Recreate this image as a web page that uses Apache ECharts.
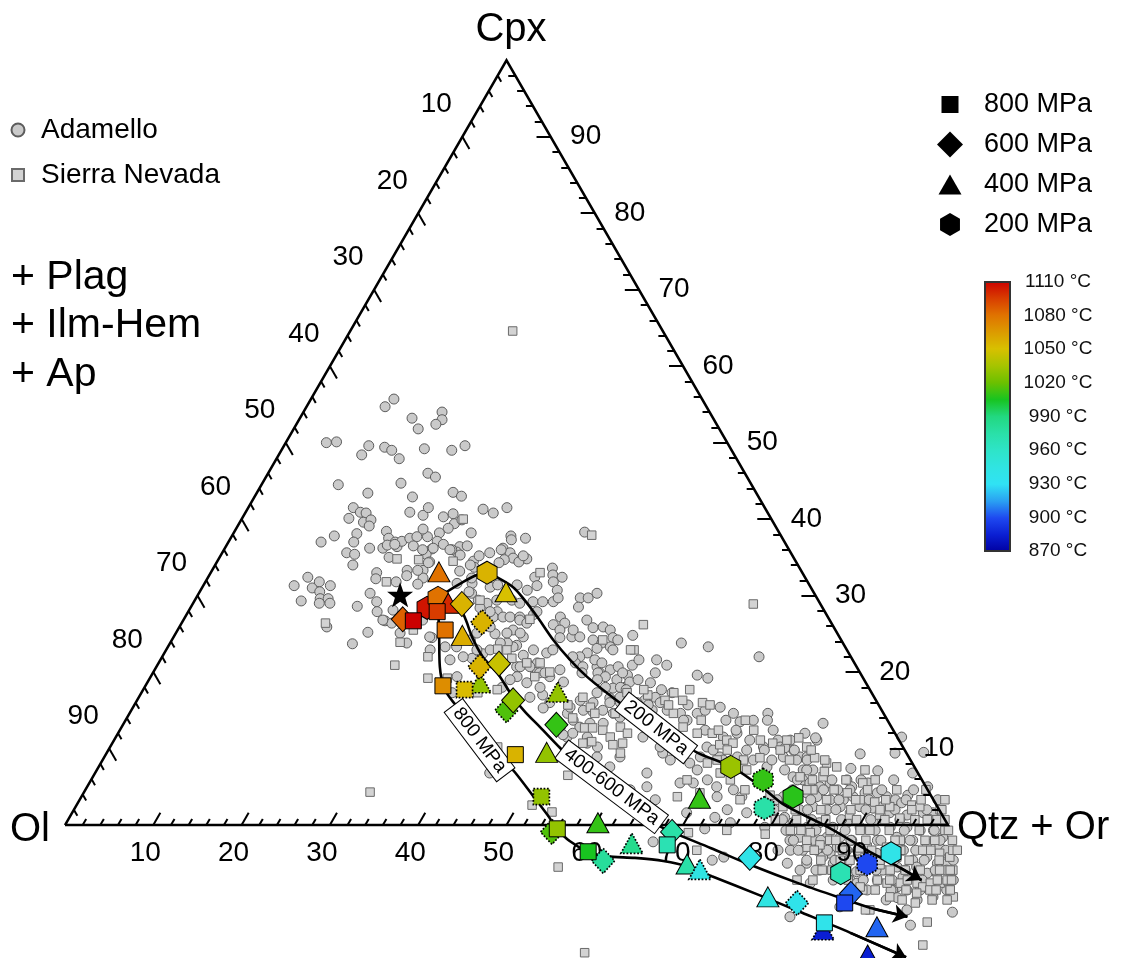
<!DOCTYPE html>
<html>
<head>
<meta charset="utf-8">
<title>Cpx – Ol – Qtz + Or</title>
<script src="https://cdn.jsdelivr.net/npm/echarts@6.0.0/dist/echarts.min.js"></script>
<style>
  html, body { margin: 0; padding: 0; background: #fff; }
  #chart { width: 1121px; height: 958px; }
</style>
</head>
<body>
<div id="chart"></div>
<script>
// ---------------------------------------------------------------------------
// Compositions are given as [Qtz + Or %, Cpx %]  (Ol = 100 - both).
// Points may plot slightly outside the triangle (projected compositions).
// ---------------------------------------------------------------------------

const axisTicks = [10, 20, 30, 40, 50, 60, 70, 80, 90];

// Adamello whole-rock projections
const adamello = [
[8.9,54.7],[9.4,55.7],[12.7,53.2],[14.1,51.8],[15.7,54.0],[16.2,53.0],[15.8,52.4],[4.6,50.0],[5.7,50.1],[9.4,48.4],[9.6,49.6],[11.5,49.4],[12.5,49.0],[13.9,47.9],[16.1,49.2],[19.3,49.0],[20.5,49.6],
[8.7,44.5],[12.6,43.4],[15.7,44.7],[17.9,42.9],[18.1,46.0],[19.2,45.5],[22.2,43.5],[23.4,43.0],
[11.9,41.5],[12.1,40.1],[13.0,40.9],[13.7,40.8],[14.0,39.6],[14.7,39.9],[14.9,39.1],[11.6,37.8],[10.5,37.0],[14.0,38.1],[14.2,37.0],[14.1,35.6],[15.1,35.4],[15.6,34.0],[16.4,36.2],[17.9,36.2],[17.2,38.4],[17.9,37.5],[18.9,37.0],[19.4,36.4],[19.6,37.1],[20.3,37.5],[21.0,37.7],[22.2,37.7],
[18.6,40.9],[20.3,40.5],[20.4,41.5],[22.7,40.3],[23.6,40.7],[24.4,39.4],[25.0,39.9],[24.0,38.8],[23.3,38.2],[23.6,37.1],[24.5,36.7],[23.5,36.1],[21.2,38.7],[23.2,35.4],[24.1,34.4],[23.9,33.3],[24.4,32.3],[24.2,31.5],[22.1,33.3],[22.4,32.6],[21.6,31.8],[18.8,33.0],[19.1,32.2],[19.2,35.0],[19.4,30.3],[20.7,29.2],[21.4,27.9],[18.8,28.6],[22.9,26.7],[23.8,26.4],[21.7,25.2],[20.7,23.7],
[10.3,31.3],[11.3,32.4],[12.1,29.3],[12.5,31.0],[12.9,31.8],[14.4,31.3],[13.6,30.5],[14.1,29.6],[15.0,29.6],[15.5,29.0],[14.3,29.0],[16.7,25.9],
[26.5,36.4],[27.3,36.5],[26.5,35.7],[26.9,38.2],[29.0,34.5],[29.3,35.2],[29.5,33.7],[28.1,33.2],[25.8,36.0],[26.7,41.3],[28.1,40.8],[29.3,41.5],[31.6,37.8],[33.4,37.5],[31.5,36.2],[32.6,35.6],[33.3,34.9],[34.9,34.8],[32.4,34.7],[34.2,34.4],[32.0,34.3],[37.0,32.4],[37.8,31.3],[30.3,31.6],[30.9,30.3],[32.1,29.4],[33.3,29.0],[35.0,27.9],[34.9,27.2],[36.0,27.2],[36.8,27.2],[37.9,27.2],[38.4,29.2],[39.3,27.5],[36.2,25.0],[38.0,25.5],[39.4,23.5],[39.6,24.6],[35.2,21.8],[32.8,21.6],[31.4,23.3],[29.3,24.5],[36.1,22.4],[41.7,21.2],[40.8,20.7],[43.5,20.0],
[18.2,36.6],[19.0,36.7],[21.2,36.5],[22.5,36.0],[23.6,36.2],[25.6,36.0],[27.1,35.3],[30.3,35.6],[31.4,36.0],[31.9,37.3],[34.3,35.2],[24.0,34.3],[23.3,33.3],[28.9,34.0],[28.6,31.6],[29.9,32.3],[30.5,30.5],[32.6,31.1],[33.3,31.4],[34.2,29.4],[35.9,29.4],[37.0,29.0],[35.5,31.4],[37.0,30.7],[38.4,33.6],[38.9,32.7],[40.1,32.4],[39.5,29.2],[40.7,29.2],[39.5,27.9],[42.5,27.2],[43.4,26.4],[43.5,29.7],[43.9,28.5],[44.4,29.7],[45.1,30.3],[42.2,26.2],[43.3,25.5],[43.8,24.5],[45.1,24.6],[46.0,24.6],[46.9,25.8],[48.0,25.9],[49.0,25.5],[49.8,24.5],[50.5,24.2],[47.7,24.2],[48.9,23.8],[50.1,23.3],[47.9,22.5],[48.7,23.1],[47.3,22.0],[47.2,21.2],[48.3,20.7],[49.9,20.7],[50.6,19.9],[51.6,20.3],[52.3,20.7],[53.0,19.0],[53.9,19.6],[54.4,18.0],[53.1,17.9],[53.4,16.6],[54.9,16.0],[51.6,17.3],[51.8,16.0],[50.2,16.3],[51.2,15.0],[49.6,14.6],[50.7,13.7],[51.9,12.8],[53.4,11.5],[55.2,10.2],[55.8,8.9],[57.9,7.6],[53.9,8.9],[51.1,11.5],[49.7,12.8],[45.6,17.0],[46.9,16.0],[44.3,16.7],[43.0,18.6],[43.8,19.9],[45.2,19.4],[42.9,21.2],[43.3,22.5],[41.6,22.9],[40.8,22.2],[39.1,23.3],[38.2,23.8],[37.5,25.1],[39.0,25.1],[38.1,26.8],[34.2,27.9],[32.8,28.4],[35.2,25.9],[34.1,25.1],[33.8,24.2],[32.7,23.3],[34.1,22.0],[35.2,22.9],[36.7,22.9],[37.4,23.8],[41.2,20.7],[42.3,20.7],[41.5,19.4],[40.9,19.0],[40.5,18.0],[46.5,15.3],[29.0,24.6],[29.9,22.9],[34.7,19.4],[35.2,17.3],[44.7,6.8],[23.1,28.1],[22.6,26.8],[25.4,25.1],[26.8,23.8],[27.1,26.8],
[39.7,38.3],[39.4,31.8],[40.4,30.7],[41.0,29.7],[39.1,26.4],[45.7,26.8],[44.8,25.5],[51.9,24.8],[57.9,23.8],[61.2,23.3],[67.6,22.0],[43.8,22.9],[46.5,22.0],[49.2,21.6],[50.2,21.2],[53.8,20.9],[53.2,19.9],[56.9,19.9],[57.7,20.9],[61.8,19.6],[63.2,19.2],[45.9,20.3],[44.4,19.9],[44.8,18.0],[47.1,18.7],[48.6,19.9],[50.4,19.9],[51.5,19.4],[52.2,18.0],[50.8,19.0],[53.9,18.0],[54.6,18.7],[55.4,19.0],[57.0,18.6],[58.5,16.7],[60.1,17.3],[57.5,16.3],[56.8,16.0],[54.5,16.7],[53.7,16.0],[53.4,15.0],[54.8,14.6],[52.4,14.8],[49.5,15.4],[52.8,13.3],[54.3,13.3],[55.8,14.1],[57.8,14.6],[59.0,15.0],[59.4,16.0],[60.7,15.0],[62.4,14.6],[63.6,13.7],[64.3,14.6],[65.0,15.0],[66.5,15.4],[68.4,14.6],[69.7,13.5],[71.1,13.7],[72.3,14.6],[75.2,11.1],[77.8,12.0],[79.6,11.1],[67.6,10.2],[68.8,11.5],[70.1,12.0],[72.0,11.1],[74.0,10.2],[75.9,10.2],[77.6,9.8],[78.8,8.9],[79.6,8.9],[71.7,8.9],[72.3,9.8],[67.5,8.9],[69.7,8.9],[63.8,11.1],[64.3,8.5],[63.0,9.4],[66.7,8.1],[68.0,7.2],[69.8,5.9],[71.3,5.0],[73.4,4.6],[68.4,5.5],[66.9,5.5],[62.5,6.8],[63.4,5.0],[58.4,8.9],[53.8,10.7],[51.9,10.2],[51.5,12.0],[50.5,11.8],[59.7,11.5],[62.3,10.2],[80.6,5.9],[82.1,4.6],[81.1,7.2],[73.7,8.5],[75.7,7.6],
[79.2,13.3],[85.4,9.3],[88.5,7.1],[89.3,9.4],[89.0,11.5],[92.5,9.5],[92.6,6.8],[93.5,3.9],[95.2,5.0],[79.3,11.4],[76.6,11.1],[76.5,10.1],[76.9,8.9],[78.6,8.5],[80.0,7.2],[77.9,7.2],[79.3,6.3],[81.6,5.5],[83.0,5.0],[83.9,5.5],[85.2,4.6],[85.6,5.9],[86.6,5.0],[88.2,5.5],[88.5,4.2],[89.9,4.2],[91.2,3.7],[92.4,3.3],[93.3,2.9],[94.8,2.4],[96.4,1.6],[97.5,1.6],[87.4,3.7],[86.5,3.3],[85.0,3.3],[83.3,3.7],[81.9,4.2],[80.8,3.3],[79.5,3.7],[83.5,2.4],[85.3,2.0],[86.6,2.4],[88.8,2.4],[90.4,2.2],[91.4,2.4],[92.6,1.6],[94.7,1.3],[82.2,2.0],[81.0,1.0],[82.3,0.3],[84.2,-0.3],[85.3,0.3],[87.1,-0.3],[88.4,0.3],[90.2,-0.3],[91.4,0.3],[93.6,-0.3],[95.5,-0.3],[97.2,-0.7],[98.7,-0.7],[100.2,-1.6],[84.0,-1.6],[85.7,-2.0],[87.1,-1.6],[88.6,-1.6],[90.1,-2.0],[93.0,-2.0],[95.0,-1.6],[97.0,-2.0],[98.8,-2.4],[100.5,-2.9],[101.7,-3.7],[83.8,-3.3],[85.2,-3.3],[86.8,-3.3],[88.5,-3.7],[90.2,-3.3],[92.1,-4.2],[93.8,-3.7],[96.6,-3.3],[98.3,-4.6],[99.7,-4.2],[101.3,-5.0],[102.4,-5.0],[84.3,-5.0],[86.5,-5.0],[87.9,-4.2],[89.5,-5.0],[91.1,-5.0],[86.2,-5.9],[88.4,-5.9],[92.5,-7.2],[92.7,-6.1],[94.5,-5.0],[95.6,-5.9],[97.0,-5.5],[98.3,-6.8],[99.2,-5.5],[100.8,-6.3],[101.9,-6.3],[102.8,-5.9],[93.5,-7.6],[98.3,-8.1],[99.6,-8.5],[103.0,-9.4],[104.1,-8.5],[104.2,-7.2],[93.6,-9.4],[88.1,-12.0],[100.9,-11.1],[106.2,-11.4],[102.3,-13.1],[93.1,-10.7],
[67.7,-2.2],[72.7,-0.5],[73.1,1.0],[74.0,2.0],[74.8,3.7],[76.4,1.6],[79.4,-0.3],[82.4,-3.3],[83.1,-2.0],[88.2,-7.6],[88.9,-2.9],[95.1,-8.5],[95.6,-7.2],[98.0,-8.5],[99.0,-9.5],[76.7,-4.2],[75.6,-4.6],[75.2,0.3],[69.6,1.6],[70.5,2.9],[72.0,3.7],[61.7,4.6],[65.2,3.3]
];

// Adamello, granitic end of the trend (dense cluster)
const adamelloFelsic = [
[80.4,7.2],[85.3,7.4],[80.0,5.9],[83.9,5.9],[87.2,5.9],[90.9,5.9],[80.1,4.6],[83.6,4.6],[86.6,4.6],[90.2,4.6],[93.8,4.6],
[79.0,3.3],[82.8,3.3],[86.0,3.3],[89.4,3.3],[93.6,3.3],[97.2,3.3],[79.3,2.0],[83.1,2.0],[86.3,2.0],[89.7,2.0],[93.0,2.0],[96.6,2.0],
[80.9,0.7],[84.2,0.7],[87.6,0.7],[90.9,0.7],[94.2,0.7],[97.6,0.7],[82.0,-0.7],[85.4,-0.7],[88.7,-0.7],[92.1,-0.7],[95.4,-0.7],[98.8,-0.7],
[83.5,-2.0],[86.6,-2.0],[90.0,-2.0],[93.4,-2.0],[96.7,-2.0],[100.1,-2.0],[84.7,-3.3],[88.0,-3.3],[91.4,-3.3],[94.7,-3.3],[98.0,-3.3],[101.4,-3.3],
[86.3,-4.6],[89.5,-4.6],[92.9,-4.6],[96.2,-4.6],[99.6,-4.6],[102.9,-4.6],[88.0,-5.9],[91.4,-5.9],[94.8,-5.9],[98.1,-5.9],[101.5,-5.9],
[90.6,-7.2],[94.0,-7.2],[97.3,-7.2],[100.7,-7.2],[94.3,-8.5],[97.8,-8.5],[101.1,-8.5],[97.9,-9.8],[101.4,-9.8],
[66.3,12.4],[69.8,12.4],[74.0,12.4],[68.5,9.8],[74.3,9.8],[77.7,9.8],[70.3,8.5],[75.8,8.5],[79.8,8.5],
[63.2,13.7],[68.0,13.7],[72.7,13.7],[58.2,15.7],[62.7,15.7],[54.7,17.7],[58.7,17.7],[54.2,21.6],[56.2,21.6],[50.6,22.9]
];

// Sierra Nevada whole-rock projections
const sierraNevada = [
[18.4,64.6],[20.2,34.8],[22.7,34.7],[26.7,34.5],[25.1,40.0],[20.5,31.8],[26.7,25.5],[16.3,26.4],[26.0,23.9],[30.1,22.0],[26.9,20.9],[31.5,19.2],[33.7,19.2],[37.5,23.0],[38.6,22.9],[41.7,21.2],[32.3,29.4],[39.2,26.9],[39.7,21.8],[43.5,19.4],[37.3,33.0],[49.1,15.7],[50.3,16.7],[51.8,15.4],[53.3,10.7],[52.7,14.6],[54.7,12.4],[56.0,11.5],[55.0,14.6],[56.5,12.8],[57.7,12.0],[55.0,17.3],[57.8,10.7],[58.2,9.4],[53.7,6.5],[40.1,17.7],[38.1,17.3],[43.9,10.2],[40.7,37.9],[63.5,28.9],[52.4,26.2],[53.0,22.9],[48.8,24.2],[44.9,20.0],[50.5,14.0],[52.5,12.7],[53.4,12.7],[54.2,10.9],[56.8,10.5],[57.5,17.0],[59.8,16.3],[60.3,17.3],[61.9,17.7],[64.2,16.0],[61.8,16.3],[61.6,14.6],[63.6,12.8],[65.6,12.0],[67.3,12.0],[68.9,10.5],[69.4,11.1],[70.3,10.7],[73.2,11.1],[74.8,10.7],[76.2,11.1],[77.4,11.4],[78.9,10.2],[80.5,8.8],[74.3,8.8],[69.6,8.5],[68.7,8.1],[70.8,6.8],[71.2,7.6],[67.5,3.7],[67.5,5.9],[69.8,4.2],[73.6,7.2],[43.2,21.2],[82.2,8.1],[83.6,7.6],[87.6,5.5],[86.5,4.2],[88.4,3.3],[90.2,3.0],[94.6,2.6],[95.6,2.4],[92.2,2.4],[80.1,6.3],[82.7,6.3],[82.4,4.6],[98.4,0.7],[97.3,0.7],[85.5,-2.9],[89.2,-2.9],[92.3,-2.9],[94.5,-2.9],[96.3,-4.2],[98.8,-3.3],[100.9,-3.7],[102.3,-4.2],[96.9,-7.6],[98.4,-7.6],[100.3,-7.6],[101.2,-8.1],[101.8,-7.6],[102.9,-7.6],[103.5,-7.2],[104.5,-8.5],[103.5,-5.9],[102.2,-3.3],[105.3,-9.4],[100.9,-8.9],[101.4,-10.2],[104.0,-12.7],[94.6,-8.5],[96.7,-11.1],[105.0,-15.7],[98.1,-9.4],[88.7,-5.9],[94.1,-8.1],[88.3,-7.2],[86.5,-7.2],[71.1,-1.0],[73.2,-3.3],[75.3,-0.7],[79.9,-1.2],[80.1,2.4],[84.9,-1.0],[91.5,-3.0],[96.2,-11.1],[97.0,-7.2],[102.2,-8.5],[58.6,-5.5],[67.2,-16.7],[51.6,2.6],[54.3,1.7],[32.4,4.3],[82.5,-0.7],[87.6,-2.0],[91.5,-0.7],[95.6,-2.0],[99.5,-2.0],[100.0,-0.7],[94.9,-5.2],[98.1,-5.9],[102.0,-5.9],[88.2,1.3],[91.6,1.3],[94.1,0.9],[90.1,-4.6],[86.8,-2.6],[98.1,2.0],[98.0,3.3],[77.9,3.9],[77.7,2.0],[74.8,3.3],[80.1,0.7],[72.4,5.9],[74.7,4.6]
];

// Sierra Nevada, granitic end of the trend (dense cluster)
const sierraFelsic = [
[82.5,7.0],[87.0,7.2],[81.7,5.9],[85.5,5.9],[88.8,5.9],[81.7,4.6],[84.8,4.6],[88.6,4.6],[91.9,4.6],[95.2,4.6],
[80.4,3.3],[84.6,3.3],[87.9,3.3],[91.3,3.3],[95.3,3.3],[81.7,2.0],[84.6,2.0],[88.0,2.0],[91.3,2.0],[94.9,2.0],[98.3,2.0],
[82.5,0.7],[85.8,0.7],[89.3,0.7],[92.5,0.7],[95.9,0.7],[99.3,0.7],[83.7,-0.7],[87.0,-0.7],[90.4,-0.7],[93.7,-0.7],[97.1,-0.7],[100.4,-0.7],
[85.0,-2.0],[88.3,-2.0],[91.7,-2.0],[95.0,-2.0],[98.4,-2.0],[101.5,-2.0],[86.5,-3.3],[89.7,-3.3],[93.0,-3.3],[96.3,-3.3],[99.7,-3.3],[102.7,-3.3],
[87.9,-4.6],[91.2,-4.6],[94.6,-4.6],[97.9,-4.6],[101.3,-4.6],[89.8,-5.9],[93.0,-5.9],[96.4,-5.9],[99.8,-5.9],[103.2,-5.9],
[92.3,-7.2],[95.6,-7.2],[99.0,-7.2],[102.4,-7.2],[104.0,-7.2],[96.0,-8.5],[99.5,-8.5],[102.9,-8.5],[104.5,-8.5],[99.7,-9.8],[103.1,-9.8],[104.8,-9.8],
[67.8,12.4],[71.8,12.4],[70.1,9.8],[76.1,9.8],[79.6,9.8],[72.6,8.5],[77.8,8.5],[81.8,8.5],[65.2,13.7],[70.2,13.7],[60.5,15.7],[65.2,15.7],[56.7,17.7],[52.6,22.9]
];

// Experimental liquids: [Qtz + Or %, Cpx %, T (°C), dotted rim]
const runs200 = [
  [26.8,28.4,1105,0],[27.4,29.7,1080,0],[31.3,33.0,1055,0],[71.6,7.6,1032,0],[76.1,5.9,1010,1],
  [80.6,3.7,1008,0],[78.1,2.2,975,1],[91.0,-6.3,970,0],[93.4,-5.1,900,1],[95.4,-3.7,940,0]
];
const runs400 = [
  [25.8,33.1,1080,0],[34.7,30.5,1050,0],[28.9,29.0,1100,0],[32.6,24.8,1058,0],[37.7,18.6,1030,1],
  [47.1,17.4,1030,1],[49.8,9.5,1030,0],[70.1,3.5,1010,0],[60.2,0.3,1010,0],[65.4,-2.4,985,1],
  [73.0,-5.1,975,0],[74.8,-5.8,945,1],[84.3,-9.4,945,0],[92.7,-13.7,885,1],[98.6,-13.3,905,0],[99.4,-17.0,885,0]
];
const runs600 = [
  [24.8,26.9,1085,0],[30.5,28.9,1055,0],[34.0,26.5,1055,1],[36.6,20.7,1055,1],[38.6,21.1,1045,0],
  [42.5,15.0,1015,1],[42.6,16.3,1030,0],[49.1,13.1,1010,0],[55.6,-0.9,1015,1],[63.3,-4.7,980,1],
  [69.2,-0.9,975,0],[79.7,-4.3,940,0],[88.0,-10.2,938,1],[93.5,-9.0,905,0]
];
const runs800 = [
  [26.1,26.7,1110,0],[28.2,27.9,1095,0],[30.3,25.5,1080,0],[33.7,18.2,1070,0],[36.4,17.7,1052,1],
  [46.4,9.2,1055,0],[52.1,3.7,1030,1],[56.0,-0.5,1030,0],[61.0,-3.5,1005,0],[69.5,-2.6,970,0],
  [93.4,-10.2,900,0],[92.4,-12.8,938,0]
];

// Starting composition
const startComposition = [22.9, 30.1];

// Liquid lines of descent
const path800 = [
  [26.1,26.7],[27.0,27.6],[28.1,28.0],[29.6,25.5],[32.1,20.7],[34.0,17.9],[35.9,16.1],[38.3,14.3],
  [40.9,12.2],[44.2,9.5],[47.5,6.9],[51.0,3.9],[54.0,1.3],[56.0,-0.5],[58.2,-2.1],[61.0,-3.5],
  [63.4,-4.1],[66.7,-4.3],[70.1,-4.7],[73.5,-5.5],[76.6,-6.7],[83.3,-9.2],[89.3,-11.5],[96.0,-14.1],[103.9,-17.3]
];
const path400_600 = [
  [27.4,29.6],[29.1,28.9],[30.5,28.4],[32.0,26.8],[33.8,24.6],[36.3,22.0],[39.0,19.9],[42.4,16.7],
  [44.7,14.8],[47.4,12.8],[51.0,10.1],[54.6,7.5],[58.1,5.0],[61.8,2.5],[65.3,0.8],[68.9,-0.8],
  [74.6,-3.0],[80.2,-5.2],[87.1,-7.7],[92.5,-9.5],[97.2,-11.0],[101.4,-12.0]
];
const path200 = [
  [27.4,29.7],[28.0,30.5],[29.2,31.8],[30.3,32.7],[31.3,33.0],[32.7,32.4],[35.2,31.1],[37.0,29.7],
  [39.9,27.2],[43.2,24.2],[46.4,21.6],[49.4,19.4],[52.7,17.3],[56.5,15.0],[60.7,12.7],[66.8,9.5],
  [71.9,7.5],[77.3,4.4],[80.2,2.6],[86.8,-0.4],[92.9,-3.5],[97.4,-5.6],[100.6,-7.2]
];

// Path captions: [Qtz + Or %, Cpx %, text, angle]
const pathCaptions = [
  [41.4, 11.1, '800 MPa', -53],
  [59.4, 5.0, '400-600 MPa', -37],
  [60.6, 12.7, '200 MPa', -38]
];

// Temperature colour scale, 870 → 1110 °C in 15 °C steps
const tempMin = 870, tempMax = 1110, tempStep = 30;
const tempColors = [
  '#0000a0', '#0a1ed2', '#1e48f0', '#2aa0f2', '#30e2f4', '#30e4e2', '#2ee4c8', '#2ae0a8',
  '#22d880', '#18c420', '#6cc000', '#a6c400', '#d8c000', '#dc9a00', '#e07200', '#d83c00', '#cc0000'
];

// ---------------------------------------------------------------------------
// Plane geometry: x = Qtz+Or + Cpx/2 (percent of side), y = Cpx.
// ---------------------------------------------------------------------------
const W = 1121, H = 958;
const originX = 65, baseY = 825, sidePx = 883;
const pxPerX = sidePx / 100;
const pxPerY = sidePx * Math.sqrt(3) / 2 / 100;
const toXY = (q, c) => [q + c / 2, c];

const FONT = '"Liberation Sans", Arial, Helvetica, sans-serif';

// Frame ticks every 2 %, longer every 10 %
const tickSegs = [];
for (let v = 2; v < 100; v += 2) {
  const len = v % 10 === 0 ? 1.6 : 0.8;
  tickSegs.push({ coords: [toXY(v, 0), toXY(v, len)] });                    // Qtz + Or
  tickSegs.push({ coords: [toXY(0, 100 - v), toXY(len, 100 - v - len)] });  // Ol
  tickSegs.push({ coords: [toXY(100 - v, v), toXY(100 - v - len, v)] });    // Cpx
}
const tickLabels = [];
axisTicks.forEach(v => {
  tickLabels.push({ value: [...toXY(v, 0), v], label: { offset: [-8, 28] } });
  tickLabels.push({ value: [...toXY(0, 100 - v), v], label: { offset: [-26, -32] } });
  tickLabels.push({ value: [...toXY(100 - v, v), v], label: { offset: [35, 0] } });
});

const runItem = ([q, c, t, dotted]) => ({
  value: [...toXY(q, c), t],
  itemStyle: dotted ? { borderType: 'dotted', borderWidth: 1.7 } : {}
});
const toLine = path => path.map(([q, c]) => toXY(q, c));
const arrowSeg = path => ({ coords: [toXY(...path[path.length - 2]), toXY(...path[path.length - 1])] });

const HEX = 'path://M0,-10L8.66,-5L8.66,5L0,10L-8.66,5L-8.66,-5Z';
const STAR = 'path://M0,-10L2.35,-3.24L9.51,-3.09L3.8,1.24L5.88,8.09L0,4L-5.88,8.09L-3.8,1.24L-9.51,-3.09L-2.35,-3.24Z';

// legend glyphs drawn inside fixed frames so their relative sizes hold
const ICON_AD = 'path://M0,0L0,0M25,18L25,18M0.5,9A6.5,6.5,0,1,0,13.5,9A6.5,6.5,0,1,0,0.5,9Z';
const ICON_SN = 'path://M0,0L0,0M25,18L25,18M1,3L13,3L13,15L1,15Z';
const ICON_800 = 'path://M0,0L0,0M42,26L42,26M4.5,4.5L21.5,4.5L21.5,21.5L4.5,21.5Z';
const ICON_600 = 'path://M0,0L0,0M42,26L42,26M13,0L26,13L13,26L0,13Z';
const ICON_400 = 'path://M0,0L0,0M42,26L42,26M13,3L24.5,23L1.5,23Z';
const ICON_200 = 'path://M0,0L0,0M42,26L42,26M13,1.5L22.96,7.25L22.96,18.75L13,24.5L3.04,18.75L3.04,7.25Z';

const barGradient = new echarts.graphic.LinearGradient(0, 0, 0, 1,
  tempColors.slice().reverse().map((color, i, a) => ({ offset: i / (a.length - 1), color })));

const runStyle = { borderColor: '#000', borderWidth: 1, opacity: 1 };
const plainText = { color: '#000', textBorderWidth: 0, textShadowBlur: 0, opacity: 1 };

const chart = echarts.init(document.getElementById('chart'));
chart.setOption({
  animation: false,
  backgroundColor: '#fff',
  grid: [
    { left: 0, top: 0, width: W, height: H, show: false },
    { left: 985, top: 282, width: 25, height: 269, show: true,
      backgroundColor: barGradient, borderColor: '#333', borderWidth: 2 }
  ],
  xAxis: [
    { type: 'value', gridIndex: 0, show: false,
      min: -originX / pxPerX, max: (W - originX) / pxPerX },
    { type: 'value', gridIndex: 1, show: false, min: 0, max: 1 }
  ],
  yAxis: [
    { type: 'value', gridIndex: 0, show: false,
      min: -(H - baseY) / pxPerY, max: baseY / pxPerY },
    { type: 'value', gridIndex: 1, position: 'right',
      min: tempMin, max: tempMax, interval: tempStep,
      axisLine: { show: false }, axisTick: { show: false }, splitLine: { show: false },
      axisLabel: { fontFamily: FONT, fontSize: 19, color: '#111', margin: 48, align: 'center',
        formatter: v => v + ' °C' } }
  ],
  visualMap: {
    type: 'continuous', show: false, min: tempMin, max: tempMax, dimension: 2,
    seriesIndex: [10, 11, 12, 13], inRange: { color: tempColors }
  },
  legend: [
    { orient: 'vertical', left: 10, top: 116, padding: 0, itemWidth: 25, itemHeight: 18, itemGap: 17,
      selectedMode: false, textStyle: { fontFamily: FONT, fontSize: 28, lineHeight: 18, color: '#000' },
      data: [{ name: 'Adamello', icon: ICON_AD }, { name: 'Sierra Nevada', icon: ICON_SN }] },
    { orient: 'vertical', left: 937, top: 91, padding: 0, itemWidth: 42, itemHeight: 26, itemGap: 13,
      selectedMode: false, textStyle: { fontFamily: FONT, fontSize: 27, lineHeight: 26, color: '#000' },
      data: [
        { name: '800 MPa', icon: ICON_800, itemStyle: { color: '#000', borderWidth: 0, opacity: 1 } },
        { name: '600 MPa', icon: ICON_600, itemStyle: { color: '#000', borderWidth: 0, opacity: 1 } },
        { name: '400 MPa', icon: ICON_400, itemStyle: { color: '#000', borderWidth: 0, opacity: 1 } },
        { name: '200 MPa', icon: ICON_200, itemStyle: { color: '#000', borderWidth: 0, opacity: 1 } }
      ] }
  ],
  graphic: [
    { type: 'text', x: 511, y: 30, style: { text: 'Cpx', fontFamily: FONT, fontSize: 40, fill: '#000', align: 'center', verticalAlign: 'middle' } },
    { type: 'text', x: 30, y: 830, style: { text: 'Ol', fontFamily: FONT, fontSize: 40, fill: '#000', align: 'center', verticalAlign: 'middle' } },
    { type: 'text', x: 957, y: 828, style: { text: 'Qtz + Or', fontFamily: FONT, fontSize: 40, fill: '#000', align: 'left', verticalAlign: 'middle' } },
    { type: 'text', x: 11, y: 278, style: { text: '+ Plag', fontFamily: FONT, fontSize: 41, fill: '#000', align: 'left', verticalAlign: 'middle' } },
    { type: 'text', x: 11, y: 326, style: { text: '+ Ilm-Hem', fontFamily: FONT, fontSize: 41, fill: '#000', align: 'left', verticalAlign: 'middle' } },
    { type: 'text', x: 11, y: 375, style: { text: '+ Ap', fontFamily: FONT, fontSize: 41, fill: '#000', align: 'left', verticalAlign: 'middle' } }
  ],
  series: [
    // 0 triangle frame
    { type: 'lines', coordinateSystem: 'cartesian2d', polyline: true, silent: true, z: 3,
      lineStyle: { color: '#000', width: 2.5, opacity: 1 },
      data: [{ coords: [toXY(0, 0), toXY(100, 0), toXY(0, 100), toXY(0, 0)] }] },
    // 1 ticks
    { type: 'lines', coordinateSystem: 'cartesian2d', silent: true, z: 3,
      lineStyle: { color: '#000', width: 2, opacity: 1 }, data: tickSegs },
    // 2 tick labels
    { type: 'scatter', symbolSize: 0, silent: true, z: 3, data: tickLabels,
      itemStyle: { opacity: 1 },
      label: Object.assign({ show: true, position: 'inside', formatter: p => p.value[2],
        fontFamily: FONT, fontSize: 28 }, plainText) },
    // 3, 4 natural samples
    { type: 'scatter', name: 'Adamello', symbol: 'circle', symbolSize: 10, z: 2,
      itemStyle: { color: '#cacaca', borderColor: '#5c5c5c', borderWidth: 1, opacity: 1 },
      data: adamello.concat(adamelloFelsic).map(([q, c]) => toXY(q, c)) },
    { type: 'scatter', name: 'Sierra Nevada', symbol: 'rect', symbolSize: 8.5, z: 2,
      itemStyle: { color: '#d3d3d3', borderColor: '#6a6a6a', borderWidth: 1, opacity: 1 },
      data: sierraNevada.concat(sierraFelsic).map(([q, c]) => toXY(q, c)) },
    // 5-7 liquid lines
    { type: 'line', data: toLine(path800), smooth: 0.3, symbol: 'none', silent: true, z: 4,
      lineStyle: { color: '#000', width: 2.6 } },
    { type: 'line', data: toLine(path400_600), smooth: 0.3, symbol: 'none', silent: true, z: 4,
      lineStyle: { color: '#000', width: 2.6 } },
    { type: 'line', data: toLine(path200), smooth: 0.3, symbol: 'none', silent: true, z: 4,
      lineStyle: { color: '#000', width: 2.6 } },
    // 8 arrow heads
    { type: 'lines', coordinateSystem: 'cartesian2d', silent: true, z: 4,
      symbol: ['none', 'arrow'], symbolSize: 14,
      lineStyle: { color: '#000', width: 2.6, opacity: 1 },
      data: [arrowSeg(path800), arrowSeg(path400_600), arrowSeg(path200)] },
    // 9 line captions
    { type: 'scatter', symbolSize: 0, silent: true, z: 5,
      itemStyle: { opacity: 1 },
      data: pathCaptions.map(([q, c, text, rot]) => ({ value: [...toXY(q, c), text], label: { rotate: rot } })),
      label: Object.assign({ show: true, position: 'inside', formatter: p => p.value[2],
        fontFamily: FONT, fontSize: 19, backgroundColor: '#fff',
        borderColor: '#000', borderWidth: 1, padding: [2, 5, 1, 5] }, plainText) },
    // 10-13 experiments
    { type: 'scatter', name: '200 MPa', symbol: HEX, symbolSize: [20, 23], z: 6,
      itemStyle: runStyle, data: runs200.map(runItem) },
    { type: 'scatter', name: '400 MPa', symbol: 'triangle', symbolSize: [22, 20], z: 6,
      itemStyle: runStyle, data: runs400.map(runItem) },
    { type: 'scatter', name: '600 MPa', symbol: 'diamond', symbolSize: [23, 25], z: 6,
      itemStyle: runStyle, data: runs600.map(runItem) },
    { type: 'scatter', name: '800 MPa', symbol: 'rect', symbolSize: 16, z: 6,
      itemStyle: runStyle, data: runs800.map(runItem) },
    // 14 starting material
    { type: 'scatter', symbol: STAR, symbolSize: [26, 25], z: 6,
      itemStyle: { color: '#000', opacity: 1 }, data: [toXY(...startComposition)] }
  ]
});
</script>
</body>
</html>
